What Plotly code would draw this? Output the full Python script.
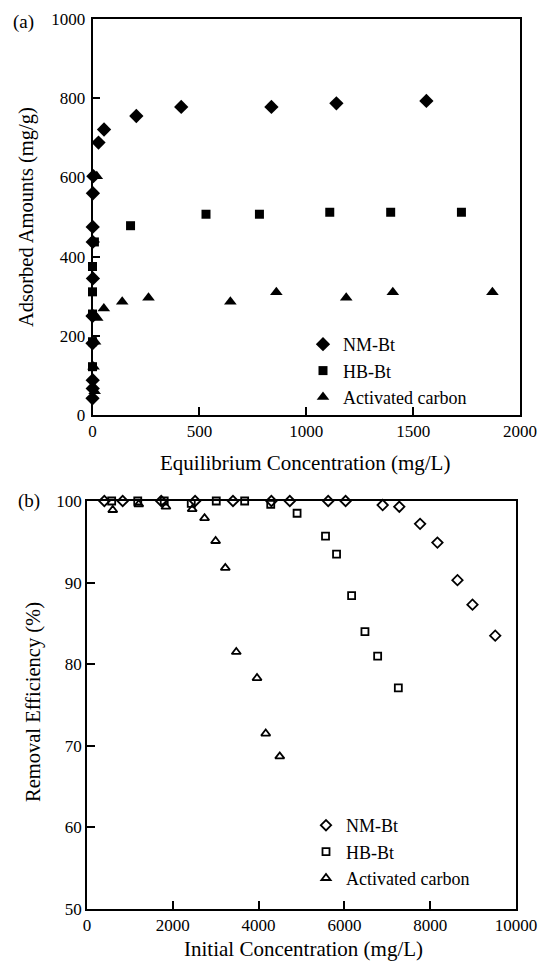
import plotly.graph_objects as go

# ---------------- Panel (a): adsorption isotherms ----------------
a_nm_x = [0, 1, 1, 0, 0, 2, 1, 1, 2, 4, 28, 54, 205, 415, 837, 1141, 1562]
a_nm_y = [42, 67, 88, 181, 250, 345, 437, 475, 560, 603, 688, 721, 755, 778, 778, 787, 793]

a_hb_x = [0, 0, 0, 0, 0, 9, 178, 531, 781, 1110, 1395, 1726]
a_hb_y = [122, 185, 255, 311, 375, 437, 478, 507, 507, 512, 512, 512]

a_ac_x = [10, 5, 12, 22, 0, 53, 139, 262, 645, 860, 1187, 1405, 1871, 20]
a_ac_y = [60, 122, 185, 245, 255, 269, 286, 296, 286, 310, 296, 310, 310, 603]

# ---------------- Panel (b): removal efficiency ----------------
b_nm_x = [404, 832, 1730, 2520, 3403, 4298, 4727, 5622, 6028, 6892, 7280, 7764, 8168, 8636, 8986, 9516]
b_nm_y = [100, 100, 100, 100, 100, 100, 100, 100, 100, 99.5, 99.3, 97.2, 94.9, 90.3, 87.3, 83.5]

b_hb_x = [575, 1183, 1800, 2430, 3013, 3675, 4283, 4897, 5560, 5817, 6168, 6479, 6775, 7257]
b_hb_y = [100, 100, 100, 99.7, 100, 100, 99.6, 98.5, 95.7, 93.5, 88.4, 84.0, 81.0, 77.1]

b_ac_x = [600, 1206, 1840, 2452, 2740, 2998, 3224, 3480, 3963, 4166, 4493]
b_ac_y = [98.9, 99.6, 99.3, 99.0, 97.9, 95.1, 91.8, 81.5, 78.3, 71.5, 68.7]

series_names = ["NM-Bt", "HB-Bt", "Activated carbon"]

a_xticks = [0, 500, 1000, 1500, 2000]
a_yticks = [0, 200, 400, 600, 800, 1000]
b_xticks = [0, 2000, 4000, 6000, 8000, 10000]
b_yticks = [50, 60, 70, 80, 90, 100]

W, H = 539, 962
FONT = "Liberation Serif"

fig = go.Figure()

filled = [("diamond", 11), ("square", 9), ("triangle-up", 11)]
for (xs, ys), name, (sym, sz), g in zip(
        [(a_nm_x, a_nm_y), (a_hb_x, a_hb_y), (a_ac_x, a_ac_y)],
        series_names, filled, ["a1", "a2", "a3"]):
    fig.add_trace(go.Scatter(
        x=xs, y=ys, mode="markers", name=name,
        marker=dict(symbol=sym, size=sz, color="black", line=dict(width=0)),
        xaxis="x", yaxis="y", legend="legend", legendgroup=g,
        cliponaxis=False))

opened = [("diamond-open", 8), ("square-open", 7), ("triangle-up-open", 8)]
for (xs, ys), name, (sym, sz) in zip(
        [(b_nm_x, b_nm_y), (b_hb_x, b_hb_y), (b_ac_x, b_ac_y)],
        series_names, opened):
    fig.add_trace(go.Scatter(
        x=xs, y=ys, mode="markers", name=name,
        marker=dict(symbol=sym, size=sz, color="black", line=dict(width=1.8, color="black")),
        xaxis="x2", yaxis="y2", legend="legend2",
        cliponaxis=False))

axis_common = dict(
    showgrid=False, zeroline=False, showline=True, linecolor="black", linewidth=1.8,
    mirror=True, ticks="inside", ticklen=8, tickwidth=1.5, tickcolor="black",
    automargin=False,
    tickfont=dict(family=FONT, size=17, color="black"),
)

fig.update_layout(
    template="none",
    width=W, height=H,
    margin=dict(l=0, r=0, t=0, b=0, autoexpand=False),
    paper_bgcolor="white", plot_bgcolor="white",
    font=dict(family=FONT, color="black"),
    xaxis=dict(domain=[92.5 / W, 520 / W], range=[0, 2000], tickvals=a_xticks,
               ticktext=[str(v) for v in a_xticks], anchor="y", **axis_common),
    yaxis=dict(domain=[1 - 415 / H, 1 - 19 / H], range=[0, 1000], tickvals=a_yticks,
               ticktext=[str(v) for v in a_yticks], anchor="x", ticklabelstandoff=2, **axis_common),
    xaxis2=dict(domain=[87 / W, 516 / W], range=[0, 10000], tickvals=b_xticks,
                ticktext=[str(v) for v in b_xticks], anchor="y2", **axis_common),
    yaxis2=dict(domain=[1 - 909 / H, 1 - 501 / H], range=[50, 100], tickvals=b_yticks,
                ticktext=[str(v) for v in b_yticks], anchor="x2", **axis_common),
    legend=dict(x=303 / W, y=1 - 326 / H, xanchor="left", yanchor="top",
                font=dict(family=FONT, size=18, color="black"), bgcolor="rgba(0,0,0,0)",
                traceorder="grouped", tracegroupgap=0, itemwidth=30),
    legend2=dict(x=306 / W, y=1 - 807 / H, xanchor="left", yanchor="top",
                 font=dict(family=FONT, size=18, color="black"), bgcolor="rgba(0,0,0,0)",
                 itemwidth=30),
    showlegend=True,
)

def ann(text, px, py, size, angle=0):
    fig.add_annotation(text=text, x=px / W, y=1 - py / H, xref="paper", yref="paper",
                       showarrow=False, textangle=angle, xanchor="center", yanchor="middle",
                       font=dict(family=FONT, size=size, color="black"))

ann("(a)", 23, 22, 19)
ann("(b)", 29, 501, 19)
ann("Adsorbed Amounts (mg/g)", 27, 217, 20.5, -90)
ann("Equilibrium Concentration (mg/L)", 305, 463, 21)
ann("Removal Efficiency (%)", 33, 702, 20.5, -90)
ann("Initial Concentration (mg/L)", 303, 949, 21)

fig.write_html(
    "out.html",
    config={"displayModeBar": False},
    post_script="document.body.style.margin='0';document.body.style.overflow='hidden';",
)
